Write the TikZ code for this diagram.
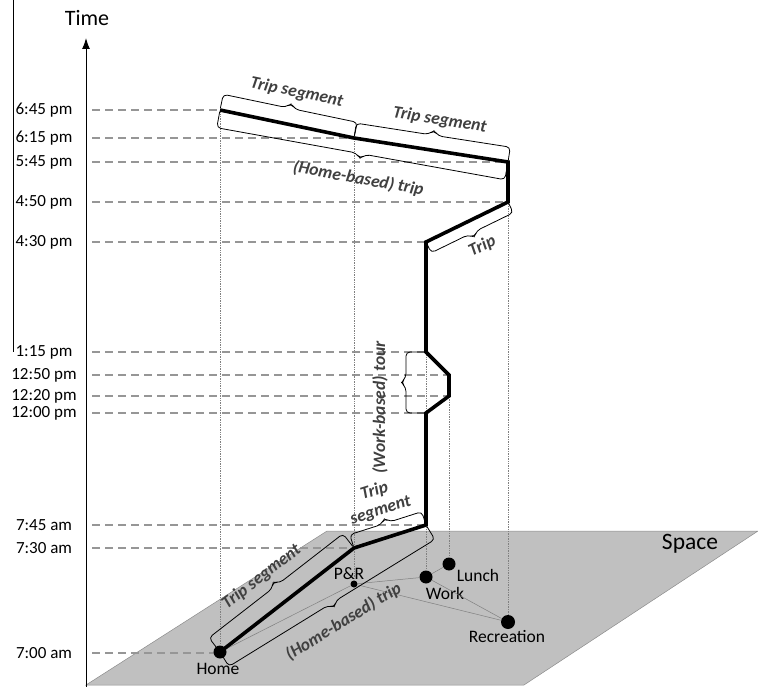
\documentclass[tikz,border=0pt]{standalone}
\usepackage{fontspec}
\setmainfont{Carlito}
\usetikzlibrary{calc,arrows.meta}
\definecolor{planegray}{RGB}{192,192,192}
\definecolor{dashgray}{RGB}{150,150,150}
\definecolor{lblgray}{RGB}{64,64,64}
\tikzset{
  timelbl/.style={font=\fontsize{17}{18}\selectfont, inner sep=0pt},
  hline/.style={dashgray, line width=1.3pt, dash pattern=on 8pt off 5pt},
  vline/.style={gray, line width=0.7pt, densely dotted},
  stpath/.style={line width=3.6pt, line join=miter},
  gline/.style={gray, line width=0.5pt},
  place/.style={circle, fill=black, inner sep=0pt, minimum size=13pt},
  placelbl/.style={font=\fontsize{17.5}{18}\selectfont, inner sep=0pt},
  brclbl/.style={font=\fontsize{17.5}{20}\selectfont\bfseries\itshape, text=lblgray, inner sep=1pt},
  % brace with long hooks: #1 side angle, #2 opposite angle, #3 hook height
  hbrace/.style n args={3}{line width=0.8pt, to path={[rounded corners=4pt]
    ($(\tikztostart)!2pt!#1:(\tikztotarget)$)
    -- ($(\tikztostart)!#3!#1:(\tikztotarget)$)
    -- ($(\tikztostart)!0.5!(\tikztotarget)!-5pt!(\tikztotarget)!#3!#1:(\tikztotarget)$)
    -- ($(\tikztostart)!0.5!(\tikztotarget)!#3+5pt!#1:(\tikztotarget)$)
    -- ($(\tikztostart)!0.5!(\tikztotarget)!5pt!(\tikztotarget)!#3!#1:(\tikztotarget)$)
    -- ($(\tikztotarget)!#3!#2:(\tikztostart)$)
    -- ($(\tikztotarget)!2pt!#2:(\tikztostart)$)}},
  lbrace/.style={hbrace={90}{-90}{#1}},
  rbrace/.style={hbrace={-90}{90}{#1}},
}
\begin{document}
\begin{tikzpicture}[x=1pt,y=-1pt]
\useasboundingbox (0,0) rectangle (758,687);
% ground plane
\fill[planegray, draw=gray!90, line width=0.5pt] (86,685) -- (524,685) -- (758,531) -- (327,531) -- cycle;
\draw[line width=0.8pt] (13,0) -- (13,352);
% time axis
\draw[-{Latex[length=11pt,width=8pt]}, line width=1pt] (86,687) -- (86,38);
\node[font=\fontsize{22}{24}\selectfont] (time) at (87,18) {Time};
\node[font=\fontsize{23.5}{24}\selectfont] (space) at (690,544) {Space};
% time levels
\foreach \y/\t/\xe in {110/6:45 pm/220, 138/6:15 pm/354, 162/5:45 pm/508, 202/4:50 pm/508,
  242/4:30 pm/426, 352/1:15 pm/426, 375/12:50 pm/449, 396/12:20 pm/449, 413/12:00 pm/426,
  525/7:45 am/426, 548/7:30 am/354, 653/7:00 am/220}{
  \node[timelbl] (t\y) at (44,\y) {\t};
  \draw[hline] (92,\y) -- (\xe,\y);
}
% places
\node[place] (home) at (220,652) {};
\node[place, minimum size=7pt] (pr) at (354,584) {};
\node[place] (work) at (426,577) {};
\node[place] (lunch) at (449,564) {};
\node[place, minimum size=14pt] (rec) at (508,622) {};
\node[placelbl] at (218,669) {Home};
\node[placelbl] at (349,574) {P\&R};
\node[placelbl] at (445,593) {Work};
\node[placelbl] at (478,575) {Lunch};
\node[placelbl] at (507,637) {Recreation};
\draw[gline] (home) -- (pr) -- (work) -- (lunch);
\draw[gline] (pr) -- (rec) -- (work);
% space-time path
\coordinate (home0) at (220,652);
\coordinate (pr0) at (354,548);
\coordinate (wk0) at (426,525);
\coordinate (wk1) at (426,413);
\coordinate (ln0) at (449,396);
\coordinate (ln1) at (449,375);
\coordinate (wk2) at (426,352);
\coordinate (wk3) at (426,242);
\coordinate (rc0) at (508,202);
\coordinate (rc1) at (508,162);
\coordinate (pr1) at (354,138);
\coordinate (home1) at (220,110);
\draw[vline] (home) -- (home1);
\draw[vline] (pr) -- (pr1);
\draw[vline] (work) -- (wk3);
\draw[vline] (lunch) -- (ln1);
\draw[vline] (rec) -- (rc1);
\draw[stpath] (home0) -- (pr0) -- (wk0) -- (wk1) -- (ln0) -- (ln1) -- (wk2) -- (wk3)
  -- (rc0) -- (rc1) -- (pr1) -- (home1);
% braces
\draw[lbrace=16pt] (home1) to (pr1);
\path (home1) -- (pr1) node[midway, sloped, above=24pt, xshift=3pt, brclbl] {Trip segment};
\draw[lbrace=15pt] (pr1) to (rc1);
\path (pr1) -- (rc1) node[midway, sloped, above=22pt, xshift=4pt, brclbl] {Trip segment};
\draw[rbrace=18pt] (home1) to (rc1);
\path (home1) -- (rc1) node[midway, sloped, below=34pt, xshift=2pt, brclbl] {(Home-based) trip};
\draw[rbrace=12pt] (wk3) to (rc0);
\path (wk3) -- (rc0) node[midway, sloped, below=20pt, xshift=3pt, brclbl] {Trip};
\draw[lbrace=20pt] (wk1) to (wk2);
\path (wk1) -- (wk2) node[midway, sloped, above=37pt, xshift=-25pt, brclbl] {(Work-based) tour};
\draw[lbrace=18pt] (home0) to (pr0);
\path (home0) -- (pr0) node[midway, sloped, above=25pt, xshift=-6pt, brclbl] {Trip segment};
\draw[lbrace=14pt] (pr0) to (wk0);
\path (pr0) -- (wk0) node[midway, sloped, above=19pt, xshift=-1pt, brclbl, align=center] {Trip\\segment};
\draw[rbrace=17pt] (home0) to (wk0);
\path (home0) -- (wk0) node[midway, sloped, below=30pt, brclbl] {(Home-based) trip};
\end{tikzpicture}
\end{document}
